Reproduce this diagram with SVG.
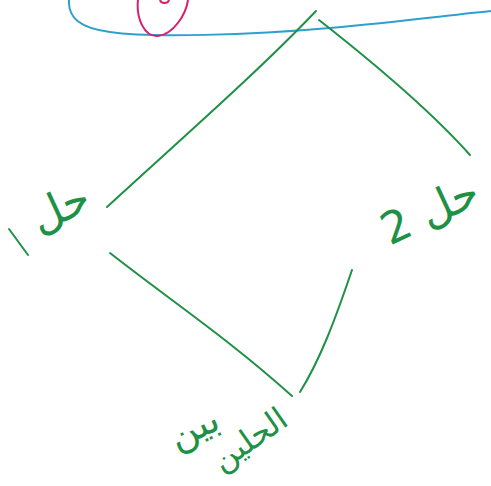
<svg xmlns="http://www.w3.org/2000/svg" width="491" height="486" viewBox="0 0 491 486">
<style>
.g{fill:none;stroke:#1e9146;stroke-width:2;stroke-linecap:round}
.t{fill:#1e9146;font-family:"DejaVu Sans",sans-serif}
</style>
<rect width="491" height="486" fill="#fff"/>
<g id="problem">
<path d="M69,0 C68,18 80,28 110,32 C150,38 250,35 330,28 C400,22 450,15 491,11" fill="none" stroke="#2ea0cf" stroke-width="2"/>
<path d="M188,0 C186,14 174,34 158,36 C144,37 136,18 138,0" fill="none" stroke="#d91f6c" stroke-width="2"/>
<path d="M160,0 C161,4 168,4 169,0" fill="none" stroke="#d91f6c" stroke-width="2"/>
</g>
<g id="connectors">
<path class="g" d="M316,11 C260,70 180,140 107,207"/>
<path class="g" d="M319,20 C370,60 430,110 470,155"/>
<path class="g" d="M110,253 C170,300 230,340 292,396"/>
<path class="g" d="M352,270 C335,320 320,360 300,392"/>
</g>
<g id="sol1">
<path class="g" d="M9,229 L28,255"/>
<text class="t" x="62" y="222" font-size="44" text-anchor="middle" transform="rotate(-25 62 212)">حل</text>
</g>
<g id="sol2">
<text class="t" x="432" y="225" font-size="44" text-anchor="middle" transform="rotate(-25 432 215)">حل 2</text>
</g>
<g id="between">
<text class="t" x="195" y="440" font-size="38" text-anchor="middle" transform="rotate(-25 195 430)">بين</text>
<text class="t" x="250" y="450" font-size="32" text-anchor="middle" transform="rotate(-35 250 440)">الحلين</text>
</g>
</svg>
